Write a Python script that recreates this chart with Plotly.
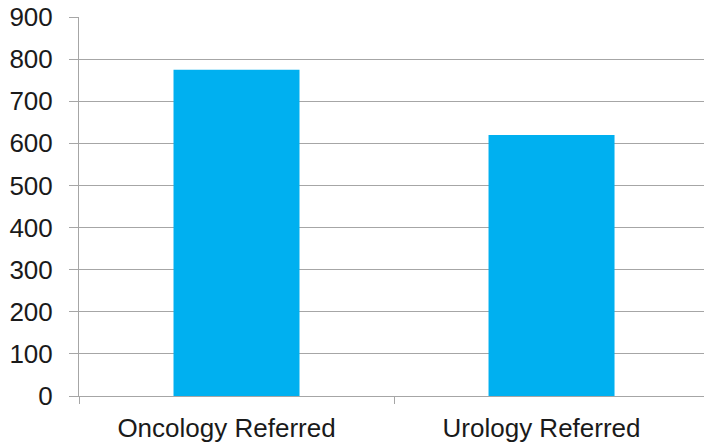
import plotly.graph_objects as go

categories = ["Oncology Referred", "Urology Referred"]
referrals = [775, 620]
y_ticks = [0, 100, 200, 300, 400, 500, 600, 700, 800, 900]

GRID = "#a6a6a6"
FONT = dict(family="Liberation Sans, Arial, sans-serif", size=26, color="#1a1a1a")

fig = go.Figure(
    go.Bar(
        x=categories,
        y=referrals,
        marker_color="#00b0f0",
        marker_line_width=0,
        width=0.4,
    )
)
fig.update_layout(
    width=704,
    height=444,
    margin=dict(l=79, r=0, t=17, b=48),
    plot_bgcolor="white",
    paper_bgcolor="white",
    showlegend=False,
    font=FONT,
)
fig.update_yaxes(
    range=[0, 900],
    tickvals=y_ticks,
    automargin=False,
    showgrid=True,
    gridcolor=GRID,
    gridwidth=1,
    showline=True,
    linecolor=GRID,
    linewidth=1,
    ticks="outside",
    ticklen=9,
    tickcolor=GRID,
    ticklabelstandoff=11,
    zeroline=False,
    tickfont=FONT,
)
fig.update_xaxes(
    type="category",
    range=[-0.5, 1.484],
    automargin=False,
    showgrid=False,
    showline=True,
    linecolor=GRID,
    linewidth=1,
    ticks="outside",
    tickson="boundaries",
    ticklen=7,
    tickcolor=GRID,
    ticklabelstandoff=9,
    ticklabelshift=-10,
    tickfont=FONT,
)
# page body has a default 8px margin; drop it so the chart sits at the corner
fig.write_html(
    "out.html",
    config={"displayModeBar": False},
    post_script="document.body.style.margin='0';",
)
